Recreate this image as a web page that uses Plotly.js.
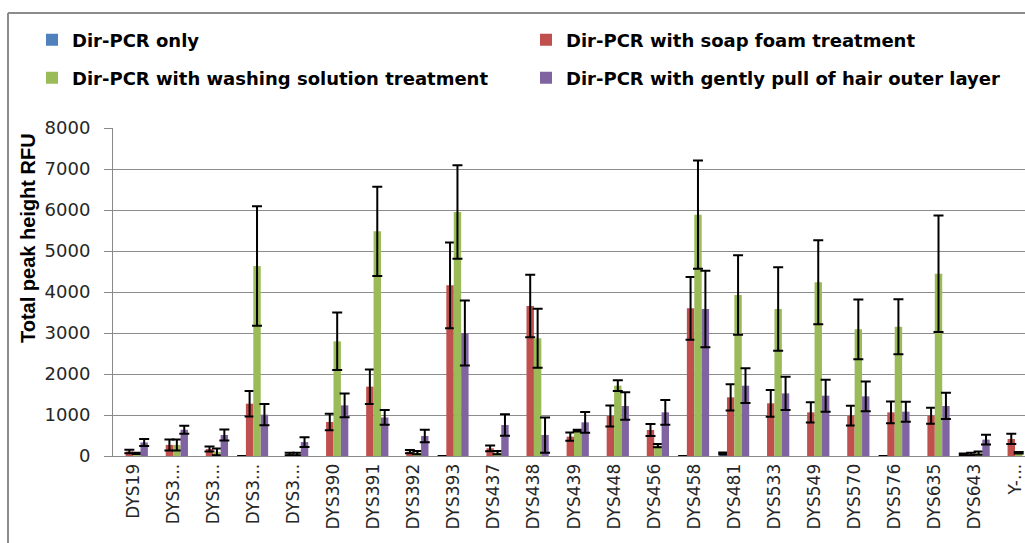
<!DOCTYPE html>
<html><head><meta charset="utf-8">
<script src="https://cdn.plot.ly/plotly-3.0.1.min.js"></script>
<style>html,body{margin:0;padding:0;background:#fff;} #chart{width:1025px;height:543px;}</style>
</head><body><div id="chart"></div>
<script>
const categories = ['DYS19','DYS3...','DYS3...','DYS3...','DYS3...','DYS390','DYS391','DYS392','DYS393','DYS437','DYS438','DYS439','DYS448','DYS456','DYS458','DYS481','DYS533','DYS549','DYS570','DYS576','DYS635','DYS643','Y-...'];
const seriesNames = ['Dir-PCR only','Dir-PCR with soap foam treatment','Dir-PCR with washing solution treatment','Dir-PCR with gently pull of hair outer layer'];
const yTitle = 'Total peak height RFU';
const onlyVals =   [null,null,null,0,null,null,null,null,0,null,null,null,null,null,0,60,null,null,null,0,null,40,null];
const onlyErr =    [null,null,null,0,null,null,null,null,0,null,null,null,null,null,0,25,null,null,null,0,null,20,null];
const soapVals =   [110,270,170,1276,50,830,1691,105,4163,187,3659,472,976,634,3602,1431,1285,1065,984,1065,984,50,415];
const soapErr =    [45,135,60,310,30,200,420,40,1045,70,760,100,255,145,765,320,325,245,240,265,195,30,125];
const washVals =   [65,270,100,4634,50,2797,5480,80,5951,80,2870,618,1715,252,5886,3927,3585,4236,3089,3154,4447,70,80];
const washErr =    [15,135,80,1460,30,700,1090,40,1140,40,720,20,130,40,1320,970,1020,1025,730,670,1420,40,20];
const pullVals =   [330,640,512,1008,340,1236,940,488,3000,756,512,821,1220,1065,3585,1715,1528,1472,1455,1081,1220,400,null];
const pullErr =    [85,100,135,260,120,290,180,155,790,265,430,255,335,300,935,425,405,390,365,245,320,120,null];
const colors = ['#4F81BD','#C0504D','#9BBB59','#8064A2'];

const idx = categories.map((c,i)=>i);
function tr(name, y, err, color, legend){
  return {type:'bar', name:name, x:idx, y:y, marker:{color:color}, legend:legend,
    error_y:{type:'data', array:err, visible:true, color:'#000', thickness:2, width:5}};
}
const data = [
  tr(seriesNames[0], onlyVals, onlyErr, colors[0], 'legend'),
  tr(seriesNames[1], soapVals, soapErr, colors[1], 'legend2'),
  tr(seriesNames[2], washVals, washErr, colors[2], 'legend3'),
  tr(seriesNames[3], pullVals, pullErr, colors[3], 'legend4')
];
const W=912, H=328;
function px(x){return (x-113)/W;}
function py(y){return (456-y)/H;}
const legFont = {family:'DejaVu Sans', size:18, color:'#000', weight:'bold'};
function leg(x, y){
  return {orientation:'h', x:px(x), xanchor:'left', y:py(y), yanchor:'middle', font:legFont, bgcolor:'rgba(0,0,0,0)'};
}
const layout = {
  width:1025, height:543,
  margin:{l:113, r:0, t:128, b:87},
  barmode:'group', bargap:0.26, bargroupgap:0,
  paper_bgcolor:'#fff', plot_bgcolor:'#fff',
  showlegend:true,
  xaxis:{range:[-0.5,22.25], tickmode:'array', tickvals:idx, ticktext:categories, tickangle:-90,
    tickfont:{family:'DejaVu Sans', size:17, color:'#262626'}, showgrid:false, showline:true,
    linecolor:'#888', linewidth:1, ticks:'', zeroline:false, ticklabeloverflow:'allow'},
  yaxis:{range:[0,8000], dtick:1000, tickformat:'d', tickfont:{family:'DejaVu Sans', size:18, color:'#262626'},
    showgrid:true, gridcolor:'#8c8c8c', gridwidth:1, showline:true, linecolor:'#888', linewidth:1,
    ticks:'outside', ticklen:8, tickcolor:'#888', zeroline:false, ticklabelstandoff:10},
  legend:leg(32, 40),
  legend2:leg(526, 40),
  legend3:leg(32, 78),
  legend4:leg(526, 78),
  annotations:[
    {text:'<b>'+yTitle+'</b>', xref:'paper', yref:'paper', x:px(28), y:py(238), xanchor:'center', yanchor:'middle',
     textangle:-90, showarrow:false, font:{family:'Liberation Sans', size:20, color:'#000'}}
  ],
  shapes:[
    {type:'line', xref:'paper', yref:'paper', x0:px(8), x1:px(8), y0:py(13), y1:py(560), line:{color:'#8c8c8c', width:2}},
    {type:'line', xref:'paper', yref:'paper', x0:px(8), x1:px(1040), y0:py(13), y1:py(13), line:{color:'#8c8c8c', width:2}}
  ]
};
Plotly.newPlot('chart', data, layout, {displayModeBar:false, staticPlot:true});
</script></body></html>
